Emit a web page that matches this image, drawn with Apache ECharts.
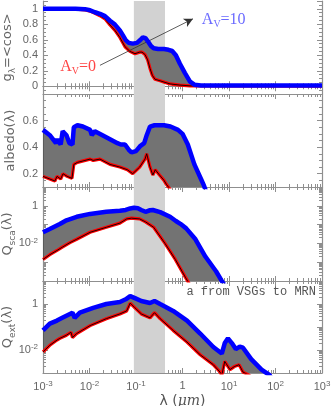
<!DOCTYPE html>
<html><head><meta charset="utf-8">
<script src="https://cdn.jsdelivr.net/npm/echarts@6/dist/echarts.min.js"></script>
<style>html,body{margin:0;padding:0;background:#fff}#c{width:332px;height:406px}</style>
</head><body><div id="c"></div>
<script>
// ---- data: [wavelength (um), value] ----
const gBlue = [[0.001,1.0],[0.005,1.0],[0.008,0.995],[0.0103,0.98],[0.0131,0.955],[0.0168,0.935],[0.0215,0.905],[0.0276,0.845],[0.0353,0.795],[0.045,0.72],[0.052,0.66],[0.06,0.595],[0.07,0.56],[0.085,0.55],[0.105,0.56],[0.125,0.6],[0.14,0.63],[0.16,0.62],[0.18,0.58],[0.21,0.52],[0.24,0.49],[0.3,0.48],[0.4,0.48],[0.5,0.47],[0.6,0.455],[0.72,0.4],[0.88,0.29],[1.13,0.17],[1.45,0.06],[1.8,0.02],[2.5,0.01],[1000,0.01]];
const gRed = [[0.001,1.0],[0.005,0.995],[0.008,0.985],[0.0103,0.97],[0.0131,0.94],[0.0168,0.91],[0.0215,0.87],[0.0276,0.79],[0.0353,0.72],[0.045,0.63],[0.058,0.51],[0.074,0.45],[0.095,0.42],[0.12,0.44],[0.135,0.44],[0.156,0.41],[0.178,0.34],[0.2,0.23],[0.225,0.14],[0.256,0.09],[0.33,0.07],[0.42,0.05],[0.54,0.03],[0.88,0.015],[1.45,0.005],[1000,0.0]];
const albBlue = [[0.001,0.53],[0.0014,0.49],[0.0019,0.43],[0.00205,0.46],[0.0024,0.42],[0.00265,0.52],[0.0032,0.49],[0.0037,0.43],[0.0043,0.42],[0.0046,0.55],[0.0055,0.565],[0.0072,0.555],[0.0103,0.53],[0.0112,0.49],[0.013,0.52],[0.019,0.49],[0.04,0.43],[0.047,0.42],[0.058,0.42],[0.07,0.38],[0.08,0.36],[0.1,0.37],[0.125,0.41],[0.15,0.43],[0.17,0.49],[0.2,0.555],[0.25,0.565],[0.4,0.565],[0.55,0.555],[0.8,0.53],[1.0,0.5],[1.3,0.42],[1.8,0.27],[2.5,0.16],[2.9,0.11],[3.5,0.03]];
const albRed = [[0.001,0.18],[0.0014,0.16],[0.0018,0.145],[0.002,0.18],[0.0024,0.16],[0.0027,0.2],[0.0033,0.18],[0.0042,0.165],[0.0046,0.27],[0.0055,0.285],[0.0103,0.31],[0.012,0.3],[0.0168,0.31],[0.0276,0.27],[0.045,0.25],[0.065,0.23],[0.085,0.2],[0.12,0.25],[0.156,0.31],[0.17,0.35],[0.2,0.25],[0.23,0.19],[0.26,0.23],[0.32,0.19],[0.4,0.15],[0.45,0.12],[0.55,0.08],[1.0,0.0],[3.5,0.0]];
const scaBlue = [[0.001,0.039],[0.0014,0.058],[0.0023,0.107],[0.0032,0.17],[0.0053,0.26],[0.0103,0.37],[0.023,0.48],[0.045,0.54],[0.06,0.6],[0.075,0.72],[0.09,0.78],[0.11,0.74],[0.13,0.6],[0.16,0.48],[0.2,0.58],[0.23,0.6],[0.33,0.46],[0.54,0.26],[0.72,0.155],[0.9,0.11],[1.2,0.063],[1.9,0.0166],[3.1,0.002],[5.3,3.2e-4],[7.4,8e-5],[10,3e-5]];
const scaRed = [[0.001,1.4e-3],[0.0014,2.5e-3],[0.002,4.2e-3],[0.0026,6.3e-3],[0.0038,0.011],[0.0053,0.0166],[0.0103,0.039],[0.023,0.072],[0.045,0.12],[0.063,0.2],[0.08,0.22],[0.12,0.2],[0.16,0.14],[0.24,0.072],[0.42,0.01],[0.7,1.4e-3],[1.15,1.6e-4],[1.6,4e-5],[10,1e-6]];
const extBlue = [[0.001,0.071],[0.0014,0.14],[0.002,0.19],[0.0026,0.25],[0.0038,0.37],[0.0043,0.42],[0.0048,0.25],[0.0062,0.42],[0.012,0.68],[0.023,1.0],[0.045,1.23],[0.06,1.6],[0.075,2.2],[0.095,1.8],[0.13,1.35],[0.2,1.1],[0.25,1.35],[0.33,1.0],[0.63,0.5],[1.25,0.19],[2.4,0.052],[4.6,0.0135],[7,0.007],[8.1,0.02],[9.5,0.032],[11.5,0.02],[14,0.011],[17,0.014],[20,0.0126],[30,0.004],[50,0.0014],[75,8e-4],[100,3e-4]];
const extRed = [[0.001,8.3e-3],[0.0014,0.016],[0.002,0.027],[0.0023,0.032],[0.0032,0.044],[0.004,0.059],[0.0043,0.035],[0.0053,0.052],[0.0103,0.115],[0.023,0.23],[0.045,0.37],[0.063,0.5],[0.075,1.1],[0.095,0.68],[0.13,0.37],[0.2,0.25],[0.25,0.42],[0.33,0.23],[0.63,0.071],[1.25,0.022],[2.4,6.2e-3],[4.6,2.3e-3],[6.4,1.1e-3],[7,8e-4],[8.1,3.2e-3],[10.5,1.4e-3],[13,1.9e-3],[16.5,2.3e-3],[20,1.1e-3],[27,8e-4],[100,1e-4]];
const band = [0.09, 0.42];
const arrowFrom = [0.0168, 0.27], arrowTo = [1.68, 0.87];
const labelA0 = [0.0057, 0.25], labelA10 = [7.7, 0.855];

// ---- layout / style ----
const AX = '#8f8f8f', LB = '#666';
const grids = [
  {left:43,right:10,top:1,height:93,outerBoundsMode:'none',containLabel:false},
  {left:43,right:10,top:94,height:93,outerBoundsMode:'none',containLabel:false},
  {left:43,right:10,top:187,height:94,outerBoundsMode:'none',containLabel:false},
  {left:43,right:10,top:281,height:92,outerBoundsMode:'none',containLabel:false}
];
const supRich = {
  b:{fontSize:11,color:LB,fontFamily:'Liberation Sans'},
  s:{fontSize:8,color:LB,fontFamily:'Liberation Sans',padding:[0,0,6,0]}
};
function powLabel(v){
  const e = Math.round(Math.log10(v));
  if (e === 0) return '{b|1}';
  return '{b|10}{s|' + e + '}';
}
const xAxis = [], yAxis = [];
for (let i = 0; i < 4; i++) {
  const last = i === 3;
  const common = {type:'log', logBase:10, min:0.001, max:1000, gridIndex:i, splitNumber:6,
    axisLine:{show:true,lineStyle:{color:AX,width:1.2}},
    axisTick:{show:true,inside:true,length:5,lineStyle:{color:AX}},
    minorTick:{show:true,splitNumber:9,length:3,lineStyle:{color:AX}},
    splitLine:{show:false}};
  xAxis.push(Object.assign({}, common, {position:'bottom',
    axisLabel:{show:last,margin:7,formatter:powLabel,rich:supRich},
    name: last ? '{n|λ (}{i|μm}{n|)}' : '', nameLocation:'middle', nameGap:21, nameMoveOverlap:false,
    nameTextStyle:{rich:{n:{fontSize:14,color:'#555',fontFamily:'DejaVu Sans'},i:{fontSize:14,color:'#555',fontStyle:'italic',fontFamily:'DejaVu Serif'}}}}));
  xAxis.push(Object.assign({}, common, {position:'top',axisLabel:{show:false}}));
}
const yDefs = [
  {type:'value',min:-0.1,max:1.1,splitNumber:6,minorSplit:4,
   fmt:v=>Math.abs(v)<1e-9?'{b|0}':(Math.abs(v-1)<1e-9?'{b|1}':'{b|'+v.toFixed(1)+'}'),
   name:'{t|g}{u|λ}{t|=<cos>}'},
  {type:'value',min:0.1,max:0.8,splitNumber:4,minorSplit:4,
   fmt:v=>'{b|'+v.toFixed(1)+'}', name:'{t|albedo(λ)}'},
  {type:'log',min:1e-4,max:10,splitNumber:5,minorSplit:9,
   fmt:v=>{const e=Math.round(Math.log10(v)); return (e%2===0)?powLabel(v):'';}, name:'{t|Q}{u|sca}{t|(λ)}'},
  {type:'log',min:1e-3,max:10,splitNumber:4,minorSplit:9,
   fmt:v=>{const e=Math.round(Math.log10(v)); return (e%2===0)?powLabel(v):'';}, name:'{t|Q}{u|ext}{t|(λ)}'}
];
const nameRich = {t:{fontSize:13,color:'#666',fontFamily:'DejaVu Sans'},u:{fontSize:9,color:'#666',fontFamily:'DejaVu Sans',padding:[9,0,0,0]}};
yDefs.forEach((d,i)=>{
  const common = {type:d.type, min:d.min, max:d.max, gridIndex:i, splitNumber:d.splitNumber,
    axisLine:{show:true,lineStyle:{color:AX,width:1.2}},
    axisTick:{show:true,inside:true,length:5,lineStyle:{color:AX}},
    minorTick:{show:true,splitNumber:d.minorSplit,length:3,lineStyle:{color:AX}},
    splitLine:{show:false}};
  if (d.type==='log') common.logBase = 10;
  yAxis.push(Object.assign({}, common, {position:'left',
    axisLabel:{show:true,margin:5,showMinLabel:false,showMaxLabel:false,formatter:d.fmt,rich:supRich},
    name:d.name,nameLocation:'middle',nameGap:26,nameMoveOverlap:false,nameTextStyle:{rich:nameRich}}));
  yAxis.push(Object.assign({}, common, {position:'right',axisLabel:{show:false}}));
});

// shaded wavelength band + filled family of curves between blue (A_V=10) and red (A_V=0)
function fill(i, upper, lower, dummyY){
  return {type:'custom',xAxisIndex:2*i,yAxisIndex:2*i,clip:true,z:2,silent:true,
    data:[[1,dummyY]],
    renderItem:function(params, api){
      const cs = params.coordSys;
      const x0 = api.coord([band[0], dummyY])[0], x1 = api.coord([band[1], dummyY])[0];
      const pts = upper.map(p=>api.coord(p)).concat(lower.slice().reverse().map(p=>api.coord(p)));
      return {type:'group',children:[
        {type:'rect',shape:{x:x0,y:cs.y,width:x1-x0,height:cs.height},style:{fill:'#d2d2d2'}},
        {type:'polygon',shape:{points:pts},style:{fill:'#737373',stroke:'#222',lineWidth:0.6}}
      ]};
    }};
}
function line(i, data, color, width, z, extra){
  return Object.assign({type:'line',xAxisIndex:2*i,yAxisIndex:2*i,data:data,symbol:'none',
    lineStyle:{color:color,width:width},z:z,silent:true,clip:true}, extra||{});
}
const series = [];
const pairs = [[gBlue,gRed,0.5],[albBlue,albRed,0.4],[scaBlue,scaRed,0.1],[extBlue,extRed,0.1]];
pairs.forEach((p,i)=>{
  series.push(fill(i,p[0],p[1],p[2]));
  series.push(line(i,p[1],'#ff0000',3.2,3));
  series.push(line(i,p[1],'#000',0.9,4));
  const extra = {};
  if (i===0) {
    extra.markLine = {silent:true,symbol:['none','arrow'],symbolSize:[7,9],
      lineStyle:{color:'#333',width:0.8,type:'solid'},label:{show:false},
      data:[[{coord:arrowFrom},{coord:arrowTo}]]};
    extra.markPoint = {silent:true,symbol:'circle',symbolSize:0,
      data:[
        {coord:labelA0,label:{show:true,position:'inside',formatter:'{a|A}{s|V}{a|=0}',
          rich:{a:{fontSize:16,color:'#ff4646',fontFamily:'Liberation Serif'},s:{fontSize:10,color:'#ff4646',fontFamily:'Liberation Serif',padding:[8,0,0,0]}}}},
        {coord:labelA10,label:{show:true,position:'inside',formatter:'{a|A}{s|V}{a|=10}',
          rich:{a:{fontSize:16,color:'#6a6aff',fontFamily:'Liberation Serif'},s:{fontSize:10,color:'#6a6aff',fontFamily:'Liberation Serif',padding:[8,0,0,0]}}}}
      ]};
  }
  series.push(line(i,p[0],'#0000ff',4.5,5,extra));
});

const chart = echarts.init(document.getElementById('c'), null, {renderer:'canvas'});
chart.setOption({
  animation:false,
  grid:grids, xAxis:xAxis, yAxis:yAxis, series:series,
  graphic:[{type:'text',right:16,top:286,style:{text:'a from VSGs to MRN',font:'12px "Liberation Mono"',fill:'#555'}}]
});
</script></body></html>
